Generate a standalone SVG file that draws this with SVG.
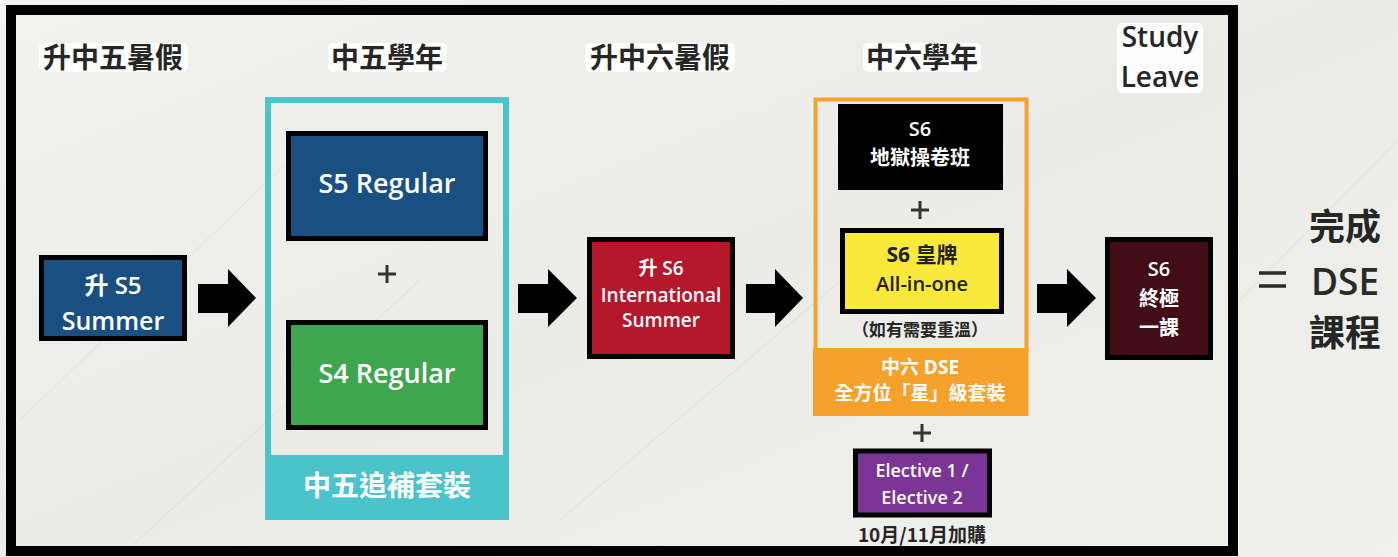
<svg xmlns="http://www.w3.org/2000/svg" width="1398" height="557" viewBox="0 0 1398 557">
<defs>
<linearGradient id="bg" x1="0" y1="0" x2="1" y2="1">
<stop offset="0" stop-color="#f2f2ef"/>
<stop offset="0.5" stop-color="#ebebe8"/>
<stop offset="1" stop-color="#f0f0ec"/>
</linearGradient>
<style>
.hd{font-family:"Noto Sans CJK TC","Noto Sans",sans-serif;font-weight:700;font-size:28px;fill:#262626;text-anchor:middle;dominant-baseline:central}
.en{font-family:"Open Sans","Noto Sans","Noto Sans CJK TC",sans-serif;font-weight:600;fill:#ffffff;text-anchor:middle;dominant-baseline:central}
.cj{font-family:"Open Sans","Noto Sans CJK TC",sans-serif;font-weight:700;fill:#ffffff;text-anchor:middle;dominant-baseline:central}
.hl{fill:#ffffff;opacity:0.9}
.node{stroke:#000;stroke-width:5}
.plus{stroke:#333;stroke-width:3;fill:none}
.arrow{fill:#000}
</style>
</defs>
<rect x="0" y="0" width="1398" height="557" fill="url(#bg)"/>
<g opacity="0.15" stroke="#9a9a9a" fill="none" stroke-width="1">
<path d="M20 420 L300 150"/>
<path d="M560 520 L900 230"/>
<path d="M1240 300 L1398 140"/>
<path d="M120 557 L420 280"/>
</g>
<rect id="frame" x="11" y="10" width="1222" height="541" fill="none" stroke="#000" stroke-width="10"/>

<g id="headers">
<rect class="hl" x="39" y="43" width="149" height="29" rx="5"/>
<text class="hd" x="113" y="56">升中五暑假</text>
<rect class="hl" x="328" y="43" width="119" height="29" rx="5"/>
<text class="hd" x="387" y="56">中五學年</text>
<rect class="hl" x="585" y="43" width="150" height="29" rx="5"/>
<text class="hd" x="660" y="56">升中六暑假</text>
<rect class="hl" x="863" y="43" width="118" height="29" rx="5"/>
<text class="hd" x="922" y="56">中六學年</text>
<rect class="hl" x="1117" y="23" width="86" height="70" rx="5"/>
<text class="en" x="1160" y="36" font-size="28" style="fill:#262626">Study</text>
<text class="en" x="1160" y="76" font-size="28" style="fill:#262626">Leave</text>
</g>

<g id="s5summer">
<rect class="node" x="41.5" y="257.5" width="143" height="81" fill="#1a4f82"/>
<text class="en" x="113" y="284" font-size="24">升 S5</text>
<text class="en" x="113" y="320" font-size="25">Summer</text>
</g>

<g id="s5package">
<rect x="268" y="100" width="238" height="417" fill="none" stroke="#4bc3cc" stroke-width="6"/>
<rect x="265" y="455" width="244" height="65" fill="#4bc3cc"/>
<text class="cj" x="387" y="485" font-size="28">中五追補套裝</text>
</g>

<g id="s5regular">
<rect class="node" x="288.5" y="133.5" width="197" height="105" fill="#1a4f82"/>
<text class="en" x="387" y="182" font-size="27">S5 Regular</text>
</g>

<g id="plus1"><path class="plus" d="M378 274 H396 M387 265 V283"/></g>

<g id="s4regular">
<rect class="node" x="288.5" y="322.5" width="197" height="105" fill="#3fa64f"/>
<text class="en" x="387" y="372" font-size="27">S4 Regular</text>
</g>

<g id="s6intl">
<rect class="node" x="589.5" y="239.5" width="143" height="117" fill="#b5182b"/>
<text class="en" x="661" y="268" font-size="19">升 S6</text>
<text class="en" x="661" y="295" font-size="19">International</text>
<text class="en" x="661" y="320" font-size="19">Summer</text>
</g>

<g id="s6package">
<rect x="815.5" y="99.5" width="211" height="314" fill="none" stroke="#f5a12c" stroke-width="4"/>
<rect x="813" y="348" width="215" height="68" fill="#f5a12c"/>
<text class="cj" x="920" y="367" font-size="19">中六 DSE</text>
<text class="cj" x="920" y="393" font-size="19">全方位「星」級套裝</text>
<text class="hd" x="920" y="328" style="font-size:17px">（如有需要重溫）</text>
</g>

<g id="s6hell">
<rect x="838" y="104" width="165" height="86" fill="#000"/>
<text class="en" x="920" y="128" font-size="20">S6</text>
<text class="cj" x="920" y="157" font-size="20">地獄操卷班</text>
</g>

<g id="plus2"><path class="plus" d="M911 210 H929 M920 201 V219"/></g>

<g id="s6allinone">
<rect class="node" x="842.5" y="230.5" width="159" height="81" fill="#f8e93a"/>
<text class="cj" x="922" y="254" font-size="21" style="fill:#222">S6 皇牌</text>
<text class="en" x="922" y="283" font-size="20" style="fill:#222">All-in-one</text>
</g>

<g id="plus3"><path class="plus" d="M913 433 H931 M922 424 V442"/></g>

<g id="elective">
<rect class="node" x="855.5" y="451" width="134" height="64" stroke-width="4" fill="#7b3596"/>
<text class="en" x="922" y="470" font-size="18">Elective 1 /</text>
<text class="en" x="922" y="497" font-size="18">Elective 2</text>
<text class="hd" x="922" y="533" style="font-size:19px">10月/11月加購</text>
</g>

<g id="s6final">
<rect class="node" x="1107.5" y="239.5" width="103" height="118" fill="#420d17"/>
<text class="en" x="1159" y="268" font-size="20">S6</text>
<text class="cj" x="1159" y="298" font-size="20">終極</text>
<text class="cj" x="1159" y="327" font-size="20">一課</text>
</g>

<g id="result">
<path d="M1259 273 H1286 M1259 286 H1286" stroke="#2a2a2a" stroke-width="3.5"/>
<text class="hd" x="1345" y="224" style="font-size:36px">完成</text>
<text class="en" x="1345" y="280" font-size="37" style="fill:#2a2a2a">DSE</text>
<text class="hd" x="1345" y="330" style="font-size:36px">課程</text>
</g>

<g id="connectors">
<polygon class="arrow" points="198,284 228,284 228,269 256,298 228,327 228,313 198,313"/>
<polygon class="arrow" points="518,284 548,284 548,269 577,298 548,327 548,313 518,313"/>
<polygon class="arrow" points="746,284 775,284 775,269 803,298 775,327 775,313 746,313"/>
<polygon class="arrow" points="1037,284 1067,284 1067,269 1096,298 1067,327 1067,313 1037,313"/>
</g>
</svg>
